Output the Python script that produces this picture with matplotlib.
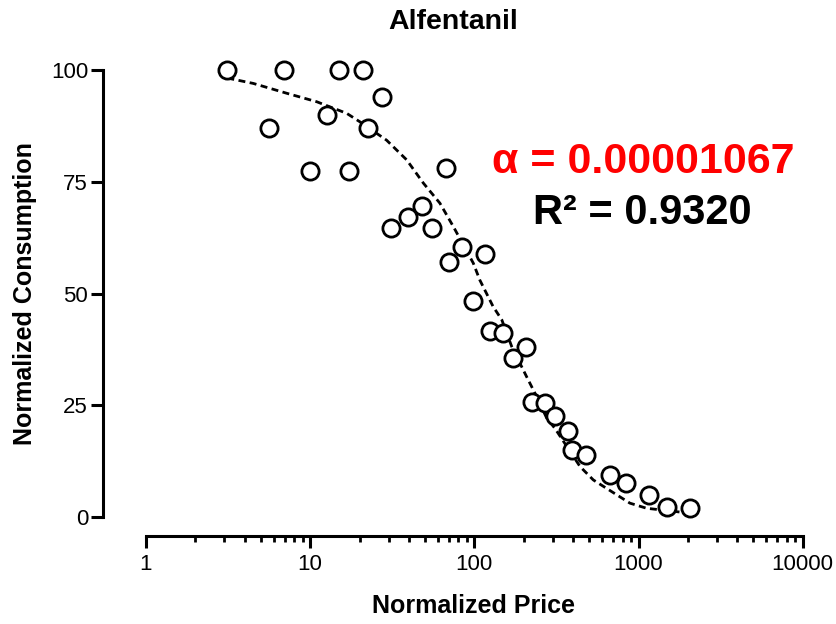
import matplotlib.pyplot as plt
from matplotlib.ticker import FixedLocator, LogLocator, NullFormatter

plt.rcParams['font.family'] = ['Liberation Sans', 'DejaVu Sans']

# observed points (normalized price vs normalized consumption)
price = [3.13, 5.61, 6.96, 9.97, 12.6, 15.0, 17.3, 20.9, 22.4, 27.3,
         30.9, 39.3, 48.2, 55.0, 66.9, 69.7, 84.4, 98.5, 116.8, 124.5,
         150, 172.6, 206, 223, 269, 308, 370, 391, 478, 667,
         834, 1152, 1483, 2056]
consumption = [100, 87.1, 100, 77.5, 89.9, 100, 77.5, 100, 87.1, 94.0,
               64.6, 67.2, 69.6, 64.6, 78.0, 57.0, 60.3, 48.4, 58.8, 41.5,
               41.1, 35.5, 38.0, 25.8, 25.6, 22.6, 19.2, 15.0, 13.9, 9.4,
               7.5, 4.9, 2.3, 2.1]

# fitted demand curve
curve_x = [3.13, 4.50, 7.19, 10.96, 16.7, 20.1, 29.2, 38.7, 48.9, 61.7,
           74.4, 98.5, 108, 130, 147, 169, 208, 240, 276, 310,
           440, 530, 639, 886, 1120, 1706, 2056]
curve_y = [98.2, 97.0, 94.8, 92.9, 90.3, 88.4, 84.3, 79.9, 74.7, 70.2,
           65.0, 56.8, 53.0, 47.1, 44.1, 38.1, 31.4, 26.9, 22.1, 19.8,
           11.3, 8.3, 6.4, 3.1, 1.95, 1.2, 0.8]

x_ticks = [1, 10, 100, 1000, 10000]
y_ticks = [0, 25, 50, 75, 100]

fig = plt.figure(figsize=(8.37, 6.24), dpi=100)
ax = fig.add_axes([146 / 837, 107 / 624, 656.7 / 837, 447 / 624])

ax.plot(curve_x, curve_y, color='black', lw=2.0, linestyle=(0, (2.5, 1.6)),
        clip_on=False, zorder=2)
ax.plot(price, consumption, linestyle='none', marker='o', markersize=12.4,
        markerfacecolor='white', markeredgecolor='black', markeredgewidth=2.0,
        clip_on=False, zorder=3)

ax.set_xscale('log')
ax.set_xlim(1, 10000)
ax.set_ylim(0, 100)

ax.xaxis.set_major_locator(FixedLocator(x_ticks))
ax.set_xticklabels([str(t) for t in x_ticks])
ax.xaxis.set_minor_locator(LogLocator(base=10, subs=range(2, 10)))
ax.xaxis.set_minor_formatter(NullFormatter())
ax.set_yticks(y_ticks)
ax.set_yticklabels([str(t) for t in y_ticks])

for side in ['top', 'right']:
    ax.spines[side].set_visible(False)
ax.spines['left'].set_position(('outward', 30.6))
ax.spines['bottom'].set_position(('outward', 14))
ax.spines['left'].set_linewidth(2.2)
ax.spines['bottom'].set_linewidth(2.2)

ax.tick_params(axis='both', which='major', direction='out', width=2.2,
               length=8.6, labelsize=16, pad=2.5)
ax.tick_params(axis='x', which='minor', direction='out', width=2.0, length=4.3)
ax.tick_params(axis='x', which='major', pad=4.0)

fig.text(474 / 837, 1 - 606 / 624, 'Normalized Price', fontsize=18,
         fontweight='bold', ha='center', va='center')
fig.text(25 / 837, 1 - 294 / 624, 'Normalized Consumption', fontsize=18,
         fontweight='bold', ha='center', va='center', rotation=90)

fig.text(453 / 837, 1 - 22 / 624, 'Alfentanil', fontsize=20.5, fontweight='bold',
         ha='center', va='center')

fig.text(643 / 837, 1 - 162 / 624, 'α = 0.00001067', fontsize=31,
         fontweight='bold', color='#ff0000', ha='center', va='center')
fig.text(642 / 837, 1 - 213 / 624, 'R² = 0.9320', fontsize=30,
         fontweight='bold', color='black', ha='center', va='center')

fig.savefig('out.png', dpi=100)
